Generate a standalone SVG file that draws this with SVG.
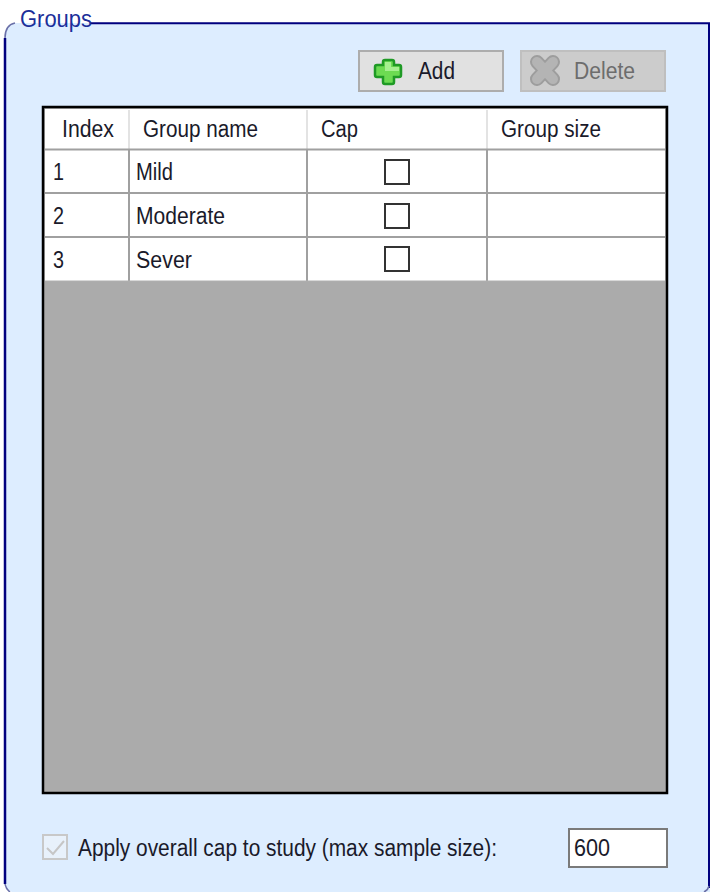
<svg xmlns="http://www.w3.org/2000/svg" width="710" height="892" viewBox="0 0 710 892">
<style>
text{font-family:"Liberation Sans",Arial,sans-serif;font-size:23px;fill:#1a1a2a}
.gl{stroke:#a0a0a0;stroke-width:2;fill:none}
.hl{stroke:#e3e3e3;stroke-width:2;fill:none}
.cb{fill:#fff;stroke:#333;stroke-width:2}
</style>
<rect width="710" height="892" fill="#fff"/>
<g id="groups-panel">
<path d="M5 884V38Q5 25 15 23H710V892H12Q6 890 5 884Z" fill="#ddedff"/>
<path d="M5 884V38" fill="none" stroke="#00007f" stroke-width="2.500"/>
<path d="M5 38Q5 25 15 23" fill="none" stroke="#6a70a8" stroke-width="1.500"/>
<path d="M5 884Q6 889 10 892" fill="none" stroke="#6a70a8" stroke-width="1.500"/>
<path d="M90 23.300H709V888" fill="none" stroke="#00007f" stroke-width="2"/>
<path d="M709 886Q708 890 704 892" fill="none" stroke="#6a70a8" stroke-width="1.500"/>
<text x="20" y="27" textLength="72" lengthAdjust="spacingAndGlyphs" style="fill:#1b2f9a">Groups</text>
</g>
<g id="add-button">
<path d="M384 59H393Q395 59 395 61V65H400Q402 65 402 67V76Q402 78 400 78H395V83Q395 85 393 85H384Q382 85 382 83V78H376Q374 78 374 76V67Q374 65 376 65H382V61Q382 59 384 59Z" fill="#c4c4c4" transform="translate(2 2)"/>
<rect x="359" y="51" width="144" height="40" fill="none" stroke="#adadad" stroke-width="2"/>
<rect x="360" y="52" width="142" height="38" fill="#e1e1e1"/>
<path d="M385 60H392Q394 60 394 62V65H399Q401 65 401 67V75Q401 77 399 77H394V82Q394 84 392 84H385Q383 84 383 82V77H377Q375 77 375 75V67Q375 65 377 65H383V62Q383 60 385 60Z" fill="#6ddb52" stroke="#1f9a25" stroke-width="2.500"/>
<path d="M385 62H391V67H399V71H385Z" fill="#a5f08f"/>
<text x="418" y="79" textLength="37" lengthAdjust="spacingAndGlyphs">Add</text>
</g>
<g id="delete-button">
<rect x="521" y="51" width="144" height="40" fill="#cccccc" stroke="#bfbfbf" stroke-width="2"/>
<path d="M537 62L553 79M553 62L537 79" fill="none" stroke="#9d9d9d" stroke-width="14" stroke-linecap="round"/>
<path d="M537 62L553 79M553 62L537 79" fill="none" stroke="#b4b4b4" stroke-width="10" stroke-linecap="round"/>
<text x="574" y="79" textLength="61" lengthAdjust="spacingAndGlyphs" style="fill:#6d6d6d">Delete</text>
</g>
<g id="data-grid">
<rect x="43" y="107" width="624" height="686" fill="#ababab" stroke="#000" stroke-width="2.500"/>
<rect x="45" y="109" width="620" height="172" fill="#fff"/>
<path class="hl" d="M129 110V149M307 110V149M487 110V149"/>
<path class="gl" d="M45 149.500H665M45 193H665M45 237H665M129 149V281M307 149V281M487 149V281"/>
<path d="M45 281H665" stroke="#b0b0b0" stroke-width="1"/>
<text x="62" y="137" textLength="52" lengthAdjust="spacingAndGlyphs">Index</text>
<text x="143" y="137" textLength="115" lengthAdjust="spacingAndGlyphs">Group name</text>
<text x="321" y="137" textLength="37" lengthAdjust="spacingAndGlyphs">Cap</text>
<text x="501" y="137" textLength="100" lengthAdjust="spacingAndGlyphs">Group size</text>
<text x="53" y="180" textLength="11" lengthAdjust="spacingAndGlyphs">1</text>
<text x="136" y="180" textLength="37" lengthAdjust="spacingAndGlyphs">Mild</text>
<rect class="cb" x="385" y="160" width="24" height="24"/>
<text x="53" y="224" textLength="11" lengthAdjust="spacingAndGlyphs">2</text>
<text x="136" y="224" textLength="89" lengthAdjust="spacingAndGlyphs">Moderate</text>
<rect class="cb" x="385" y="204" width="24" height="24"/>
<text x="53" y="268" textLength="11" lengthAdjust="spacingAndGlyphs">3</text>
<text x="136" y="268" textLength="56" lengthAdjust="spacingAndGlyphs">Sever</text>
<rect class="cb" x="385" y="247" width="24" height="24"/>
</g>
<g id="apply-cap">
<rect x="43" y="835" width="24" height="24" fill="#e8f1fb" stroke="#c8c8c8" stroke-width="2"/>
<path d="M47 848l6 6 11-13" fill="none" stroke="#c6c6c6" stroke-width="2"/>
<text x="78" y="856" textLength="419" lengthAdjust="spacingAndGlyphs">Apply overall cap to study (max sample size):</text>
</g>
<g id="cap-input">
<rect x="569" y="829" width="98" height="38" fill="#fff" stroke="#7a7a7a" stroke-width="2"/>
<text x="574" y="856" textLength="36" lengthAdjust="spacingAndGlyphs">600</text>
</g>
</svg>
